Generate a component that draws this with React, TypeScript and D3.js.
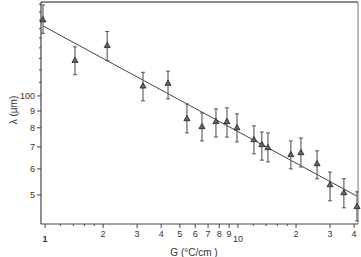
import * as d3 from "d3";
import React from "react";

// G (°C/cm) and lambda (um) with error bar limits
const gradient = [0.976, 1.43, 2.1, 3.22, 4.34, 5.44, 6.51, 7.69, 8.77, 9.88, 12.1, 13.3, 14.3, 18.8, 21.2, 25.7, 30.0, 35.4, 41.4];
const lambda = [170, 128, 142, 107, 109, 85.1, 80.5, 83.4, 83.4, 79.9, 73.5, 71.0, 69.5, 66.2, 67.1, 62.1, 53.6, 50.7, 46.0];
const lambdaHigh = [189, 141, 157, 118, 119, 94.5, 88.8, 91.3, 92.0, 88.2, 81.1, 77.7, 77.2, 73.0, 74.5, 68.1, 58.7, 56.0, 51.1];
const lambdaLow = [155, 116, 128, 96.6, 98, 77.2, 73.0, 75.0, 75.0, 72.5, 66.7, 63.8, 63.0, 60.0, 60.8, 56.0, 48.0, 45.7, 41.7];

// power-law fit: lambda = fitCoef * G^fitExp
const fitCoef = 162;
const fitExp = -0.318;

const xTicks = [1, 2, 3, 4, 5, 6, 7, 8, 9, 10, 20, 30, 40];
const xTickLabels = ["1", "2", "3", "4", "5", "6", "7", "8", "9", "10", "2", "3", "4"];
const xMinor = [1.2, 1.4, 1.6, 1.8, 12, 14, 16, 18];
const yTicks = [50, 60, 70, 80, 90, 100];
const yTickLabels = ["5", "6", "7", "8", "9", "100"];
const yMinor = [110, 120, 130, 140, 150, 160, 170, 180, 190];

const W = 361;
const H = 257;
const left = 41;
const right = 358;
const top = 2;
const bottom = 224;

export default function App() {
  const x = d3.scaleLog().domain([0.953, 41.9]).range([left, right]);
  const y = d3.scaleLog().domain([40.8, 193]).range([bottom, top]);

  const gLo = gradient[0];
  const gHi = gradient[gradient.length - 1];
  const fitPts: [number, number][] = [gLo, gHi].map((g) => [x(g), y(fitCoef * Math.pow(g, fitExp))]);
  const line = d3.line();
  const tri = d3.symbol(d3.symbolTriangle, 16)();

  const font = "'Liberation Sans', Arial, sans-serif";
  const axisColor = "#444";

  return (
    <svg width={W} height={H} style={{ position: "absolute", left: 0, top: 0 }} fontFamily={font}>
      <rect width={W} height={H} fill="#fff" />
      {/* frame */}
      <line x1={left} x2={right} y1={top} y2={top} stroke="#666" strokeWidth={1.6} />
      <line x1={right} x2={right} y1={top} y2={bottom} stroke="#777" strokeWidth={1} />
      <line x1={left} x2={left} y1={top} y2={bottom} stroke={axisColor} strokeWidth={1.2} />
      <line x1={left} x2={right} y1={bottom} y2={bottom} stroke={axisColor} strokeWidth={1.2} />

      {/* x axis */}
      {xTicks.map((t, i) => {
        const decade = t === 1 || t === 10;
        return (
          <g key={"xt" + t}>
            <line x1={x(t)} x2={x(t)} y1={bottom} y2={bottom + 4} stroke={axisColor} strokeWidth={1} />
            <text
              x={x(t)}
              y={decade ? 242 : 237}
              textAnchor="middle"
              fontSize={9}
              fill="#333"
              fontWeight={t === 1 ? "bold" : "normal"}
            >
              {xTickLabels[i]}
            </text>
          </g>
        );
      })}
      {xMinor.map((t) => (
        <line key={"xm" + t} x1={x(t)} x2={x(t)} y1={bottom} y2={bottom + 2} stroke={axisColor} strokeWidth={1} />
      ))}
      <text x={194} y={256} textAnchor="middle" fontSize={10} fill="#333">
        G (°C/cm )
      </text>

      {/* y axis */}
      {yTicks.map((t, i) => (
        <g key={"yt" + t}>
          <line x1={left - 4} x2={left} y1={y(t)} y2={y(t)} stroke={axisColor} strokeWidth={1} />
          <text x={left - 6} y={y(t) + 3} textAnchor="end" fontSize={9} fill="#333">
            {yTickLabels[i]}
          </text>
        </g>
      ))}
      {yMinor.map((t) => (
        <line key={"ym" + t} x1={left - 2} x2={left} y1={y(t)} y2={y(t)} stroke={axisColor} strokeWidth={1} />
      ))}
      <text
        transform={`translate(17, 110) rotate(-90)`}
        textAnchor="middle"
        fontSize={10}
        fill="#333"
      >
        λ (μm)
      </text>

      {/* fit line */}
      <path d={line(fitPts) || ""} stroke="#444" strokeWidth={1} fill="none" />

      {/* error bars and markers */}
      {gradient.map((g, i) => {
        const cx = x(g);
        return (
          <g key={"p" + i}>
            <line x1={cx} x2={cx} y1={y(lambdaHigh[i])} y2={y(lambdaLow[i])} stroke="#666" strokeWidth={1.2} />
            <line x1={cx - 2} x2={cx + 2} y1={y(lambdaHigh[i])} y2={y(lambdaHigh[i])} stroke="#555" strokeWidth={1} />
            <line x1={cx - 2} x2={cx + 2} y1={y(lambdaLow[i])} y2={y(lambdaLow[i])} stroke="#555" strokeWidth={1} />
            <path d={tri || ""} transform={`translate(${cx},${y(lambda[i])})`} fill="#666" stroke="#222" strokeWidth={0.8} />
          </g>
        );
      })}
    </svg>
  );
}
